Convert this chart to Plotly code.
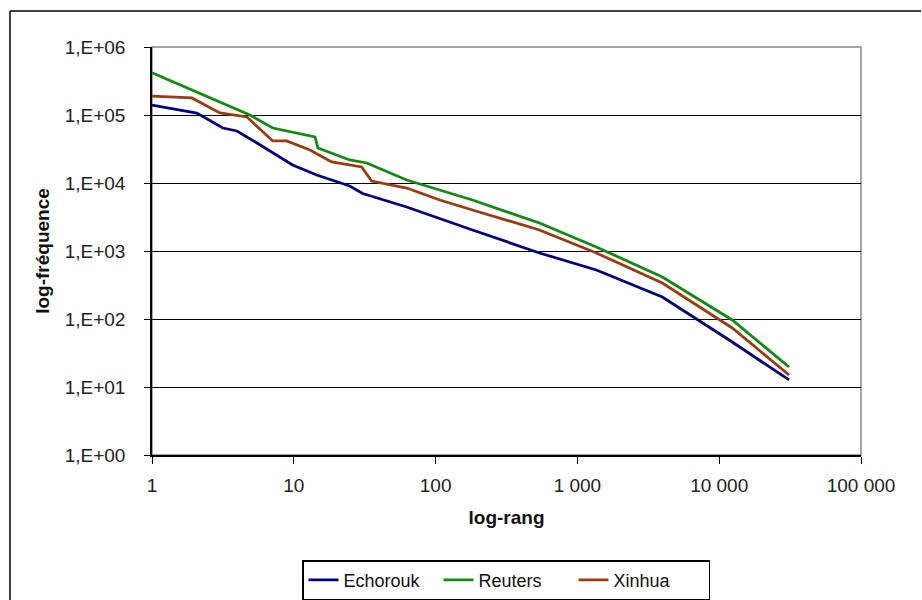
import plotly.graph_objects as go

# ---- data ----
echorouk_rank = [1, 2.07, 3.16, 3.97, 5.5, 7.6, 9.8, 14.5, 24.8, 30.6, 62.5, 182, 540, 1360, 3970, 12360, 31100]
echorouk_freq = [140000, 107000, 64400, 58200, 38700, 25800, 18400, 13100, 9040, 7000, 4440, 2040, 935, 526, 211, 45.9, 12.7]

reuters_rank = [1, 4.9, 7.1, 14.1, 14.8, 24.8, 32.7, 62.5, 182, 540, 1360, 3970, 12360, 31100]
reuters_freq = [419000, 100000, 64400, 47500, 32700, 21800, 19700, 11070, 5620, 2580, 1146, 415, 96.7, 19.7]

xinhua_rank = [1, 1.91, 3.01, 4.67, 7.1, 8.9, 13, 18.5, 30.1, 35.4, 62.5, 107, 182, 540, 1360, 3970, 12360, 31100]
xinhua_freq = [190000, 178000, 107000, 93500, 41500, 41500, 30600, 20400, 17200, 10700, 8440, 5620, 4010, 2040, 935, 338, 73.8, 15.0]

x_tickvals = [1, 10, 100, 1000, 10000, 100000]
x_ticktext = ["1", "10", "100", "1 000", "10 000", "100 000"]
y_tickvals = [1, 10, 100, 1000, 10000, 100000, 1000000]
y_ticktext = ["1,E+00", "1,E+01", "1,E+02", "1,E+03", "1,E+04", "1,E+05", "1,E+06"]

FONT = "Liberation Sans, Arial, sans-serif"

fig = go.Figure()
fig.add_trace(go.Scatter(x=echorouk_rank, y=echorouk_freq, mode="lines", name="Echorouk",
                         line=dict(color="#000080", width=2.8)))
fig.add_trace(go.Scatter(x=reuters_rank, y=reuters_freq, mode="lines", name="Reuters",
                         line=dict(color="#108a10", width=2.8)))
fig.add_trace(go.Scatter(x=xinhua_rank, y=xinhua_freq, mode="lines", name="Xinhua",
                         line=dict(color="#9c3a10", width=2.8)))

fig.update_layout(
    width=922, height=600,
    margin=dict(l=152, r=61, t=47, b=145, autoexpand=False),
    paper_bgcolor="white", plot_bgcolor="white",
    font=dict(family=FONT, size=19, color="#222"),
    showlegend=True,
    legend=dict(orientation="h", x=0.4993, xanchor="center", y=-0.258, yanchor="top",
                bordercolor="black", borderwidth=1.5, bgcolor="white",
                font=dict(family=FONT, size=18, color="#111"),
                entrywidth=90, entrywidthmode="pixels",
                itemwidth=30, tracegroupgap=0),
    xaxis=dict(type="log", range=[0, 5], tickvals=x_tickvals, ticktext=x_ticktext,
               showgrid=False, zeroline=False, showline=True, linecolor="black", linewidth=1.5,
               ticks="outside", ticklen=7, tickcolor="black", tickwidth=1,
               ticklabelstandoff=5,
               tickfont=dict(family=FONT, size=19, color="#222"),
               title=dict(text="<b>log-rang</b>", font=dict(family=FONT, size=19, color="#111"), standoff=16)),
    yaxis=dict(type="log", range=[0, 6], tickvals=y_tickvals, ticktext=y_ticktext,
               showgrid=True, gridcolor="black", gridwidth=1.2, zeroline=False,
               showline=True, linecolor="black", linewidth=1.5,
               ticks="outside", ticklen=6, tickcolor="black", tickwidth=1,
               ticklabelstandoff=15,
               tickfont=dict(family=FONT, size=19, color="#222"),
               title=dict(text="<b>log-fréquence</b>", font=dict(family=FONT, size=19, color="#111"), standoff=10)),
    shapes=[
        dict(type="rect", xref="paper", yref="paper", x0=0, x1=1, y0=0, y1=1,
             line=dict(color="#888", width=1.5), layer="below"),
        dict(type="line", xref="paper", yref="paper", x0=-0.2003, x1=1.0846, y0=1.088, y1=1.088,
             line=dict(color="black", width=1.5)),
        dict(type="line", xref="paper", yref="paper", x0=-0.2003, x1=-0.2003, y0=-0.37, y1=1.088,
             line=dict(color="black", width=1.5)),
    ],
)

fig.write_html("out.html",
               post_script="document.documentElement.style.overflow='hidden';document.body.style.margin='0';document.body.style.overflow='hidden';")
